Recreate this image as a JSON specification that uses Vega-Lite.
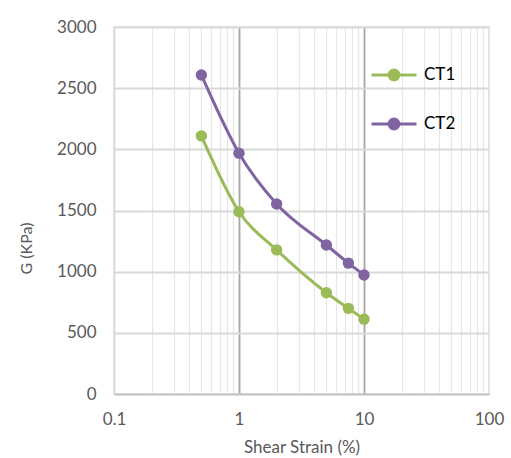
{
  "$schema": "https://vega.github.io/schema/vega-lite/v6.json",
  "width": 375,
  "height": 367,
  "autosize": "none",
  "padding": {"left": 114, "top": 27, "right": 22, "bottom": 64},
  "background": "white",
  "config": {
    "font": "Lato",
    "view": {"stroke": "#d9d9d9", "strokeWidth": 1.5}
  },
  "data": {
    "values": [
      {"series": "CT1", "strain": 0.5, "G": 2110},
      {"series": "CT1", "strain": 1, "G": 1490},
      {"series": "CT1", "strain": 2, "G": 1178},
      {"series": "CT1", "strain": 5, "G": 828},
      {"series": "CT1", "strain": 7.5, "G": 700},
      {"series": "CT1", "strain": 10, "G": 612},
      {"series": "CT2", "strain": 0.5, "G": 2608},
      {"series": "CT2", "strain": 1, "G": 1968},
      {"series": "CT2", "strain": 2, "G": 1553},
      {"series": "CT2", "strain": 5, "G": 1218},
      {"series": "CT2", "strain": 7.5, "G": 1070},
      {"series": "CT2", "strain": 10, "G": 973}
    ]
  },
  "encoding": {
    "x": {
      "field": "strain",
      "type": "quantitative",
      "scale": {"type": "log", "domain": [0.1, 100], "nice": false},
      "axis": {
        "title": "Shear Strain (%)",
        "titleFontSize": 17,
        "titleFontWeight": "normal",
        "titleColor": "#595959",
        "titlePadding": 12,
        "values": [0.1, 0.2, 0.3, 0.4, 0.5, 0.6, 0.7, 0.8, 0.9, 1, 2, 3, 4, 5, 6, 7, 8, 9, 10, 20, 30, 40, 50, 60, 70, 80, 90, 100],
        "labelExpr": "datum.value == 0.1 ? '0.1' : datum.value == 1 ? '1' : datum.value == 10 ? '10' : datum.value == 100 ? '100' : ''",
        "labelFontSize": 17,
        "labelColor": "#595959",
        "labelPadding": 17,
        "labelFlush": false,
        "labelOverlap": false,
        "ticks": false,
        "domainColor": "#bfbfbf",
        "domainWidth": 1.5,
        "grid": true,
        "gridColor": {"condition": {"test": "datum.value == 1 || datum.value == 10", "value": "#a6a6a6"}, "value": "#e6e6e6"},
        "gridWidth": {"condition": {"test": "datum.value == 1 || datum.value == 10", "value": 1.8}, "value": 1.2}
      }
    },
    "y": {
      "field": "G",
      "type": "quantitative",
      "scale": {"domain": [0, 3000], "nice": false},
      "axis": {
        "title": "G (KPa)",
        "titleFontSize": 16,
        "titleFontWeight": "normal",
        "titleColor": "#595959",
        "titlePadding": 22,
        "titleY": 221,
        "values": [0, 500, 1000, 1500, 2000, 2500, 3000],
        "format": "d",
        "labelFontSize": 17,
        "labelColor": "#595959",
        "labelPadding": 18,
        "ticks": false,
        "domainColor": "#d9d9d9",
        "domainWidth": 1.5,
        "grid": true,
        "gridColor": "#d9d9d9",
        "gridWidth": 2
      }
    },
    "color": {
      "field": "series",
      "type": "nominal",
      "scale": {"domain": ["CT1", "CT2"], "range": ["#9bbb59", "#8064a2"]},
      "legend": {
        "title": null,
        "orient": "none",
        "legendX": 256,
        "legendY": 24,
        "symbolType": "M-1,0H1M-0.22,0A0.22,0.22 0 1 1 0.22,0A0.22,0.22 0 1 1 -0.22,0Z",
        "symbolSize": 2025,
        "labelFontSize": 17,
        "labelColor": "#000000",
        "labelOffset": 6,
        "rowPadding": 14,
        "encode": {
          "symbols": {
            "update": {
              "fill": {"scale": "color", "field": "value"},
              "stroke": {"scale": "color", "field": "value"},
              "strokeWidth": {"value": 3},
              "opacity": {"value": 1}
            }
          }
        }
      }
    }
  },
  "layer": [
    {
      "mark": {"type": "line", "interpolate": "monotone", "strokeWidth": 3}
    },
    {
      "mark": {"type": "point", "filled": true, "size": 130, "opacity": 1}
    }
  ]
}
